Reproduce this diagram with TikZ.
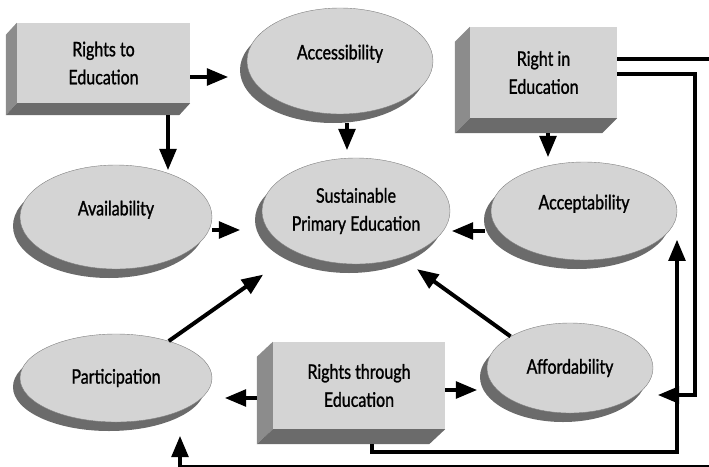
\documentclass[tikz,border=0pt]{standalone}
\usepackage{fontspec}
\setmainfont{Lato}[FakeStretch=0.8,FakeBold=1.2]
\usetikzlibrary{arrows,shapes,shadows}
\definecolor{facegray}{gray}{0.83}
\definecolor{sidegray}{gray}{0.55}
\definecolor{basegray}{gray}{0.42}
\definecolor{ringgray}{gray}{0.5}
\tikzstyle{bubble}=[ellipse,draw=ringgray,fill=facegray,inner sep=0pt,align=center,
  drop shadow={shadow xshift=-7pt,shadow yshift=-9pt,fill=basegray,opacity=1}]
\tikzstyle{block}=[rectangle,fill=facegray,inner sep=0pt,align=center]
\tikzstyle{raised}=[text depth=18pt]
\tikzstyle{arr}=[->,line width=4pt]

\begin{document}
\begin{tikzpicture}[>=triangle 45,x=1pt,y=-1pt,font=\fontsize{20}{28}\selectfont]
\useasboundingbox (0,0) rectangle (709,466);
% the three rights
\node [block,minimum width=173pt,minimum height=80pt] (rto) at (103.5,63) {Rights to\\Education};
\node [block,minimum width=147pt,minimum height=91pt] (rin) at (543.5,72.5) {Right in\\Education};
\node [block,minimum width=172pt,minimum height=87pt] (rthr) at (359,385.5) {Rights through\\Education};
\foreach \b/\dx/\dy in {rto/-11/12,rin/-15/15,rthr/-16/15}{
  \fill[sidegray] (\b.north west) -- (\b.south west) -- ([shift={(\dx,\dy)}]\b.south west)
    -- ([shift={(\dx,\dy)}]\b.north west) -- cycle;
  \fill[basegray] (\b.south west) -- (\b.south east) -- ([shift={(\dx,\dy)}]\b.south east)
    -- ([shift={(\dx,\dy)}]\b.south west) -- cycle;
}
% the ellipses
\node [bubble,raised,minimum width=186pt,minimum height=106pt] (acc) at (340,61) {Accessibility};
\node [bubble,raised,minimum width=192pt,minimum height=104pt] (avail) at (116,217) {Availability};
\node [bubble,minimum width=188pt,minimum height=106pt] (spe) at (356,211) {Sustainable\\Primary Education};
\node [bubble,raised,minimum width=186pt,minimum height=98pt] (acpt) at (584,211) {Acceptability};
\node [bubble,minimum width=192pt,minimum height=88pt] (part) at (116,378) {Participation};
\node [bubble,minimum width=166pt,minimum height=90pt] (aff) at (570,368) {Affordability};

\draw[arr,shorten >=19pt] ([yshift=-14pt]rto.east) -- ([yshift=-14pt]rto.east -| acc.west);
\draw[arr,shorten <=12pt,shorten >=-5pt] ([xshift=64.5pt]rto.south) -- ([xshift=64.5pt]rto.south |- avail.north);
\draw[arr,shorten <=9pt,shorten >=8pt] ([xshift=7pt]acc.south) -- ([xshift=7pt]acc.south |- spe.north);
\draw[arr,shorten <=15pt,shorten >=5pt] ([xshift=4.5pt]rin.south) -- ([xshift=4.5pt]rin.south |- acpt.north);
\draw[arr,shorten >=22pt] ([yshift=-13pt]avail.east) -- ([yshift=-13pt]avail.east -| spe.west);
\draw[arr,shorten <=6pt,shorten >=2pt] ([yshift=-20pt]acpt.west) -- ([yshift=-20pt]acpt.west -| spe.east);
\draw[arr,shorten >=40pt] (part.35) -- (spe.214);
\draw[arr,shorten >=20pt] (aff.152) -- (spe.314);
\draw[arr,shorten <=16pt,shorten >=13pt] ([yshift=-12.5pt]rthr.west) -- ([yshift=-12.5pt]rthr.west -| part.east);
\draw[arr,shorten >=10pt] ([yshift=-4.5pt]rthr.east) -- ([yshift=-4.5pt]rthr.east -| aff.west);
% feedback lines round the right
\coordinate (outer) at (730,467);
\draw[arr,shorten >=14pt] ([yshift=13.5pt]rin.east) -| (outer) -| ([xshift=64pt]part.south);
\draw[arr,shorten >=5pt] ([yshift=-1.5pt]rin.east) -| ([xshift=42pt,yshift=-27pt]aff.east) -- ([yshift=-27pt]aff.east);
\coordinate (acptfoot) at ([xshift=93pt,yshift=-29pt]acpt.center);
\draw[arr,shorten <=15pt] ([xshift=13pt]rthr.south) -- ++(0,23) -| (acptfoot);
\end{tikzpicture}
\end{document}
